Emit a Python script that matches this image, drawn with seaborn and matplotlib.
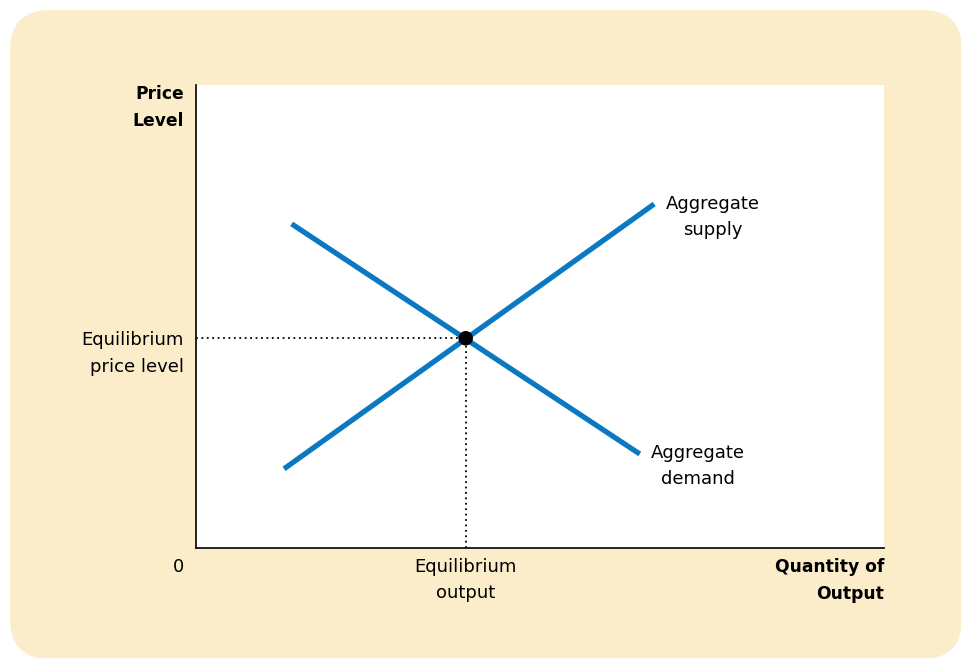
import seaborn as sns
import matplotlib.pyplot as plt
import pandas as pd
from matplotlib.patches import FancyBboxPatch
from matplotlib.transforms import IdentityTransform

# curve end points (arbitrary units, 0-100 on each axis)
supply_q = [12.8, 66.6]
supply_p = [17.1, 74.3]
demand_q = [13.9, 64.5]
demand_p = [70.0, 20.3]
eq_q = 39.2
eq_p = 45.3

blue = '#0A79C2'
bg = '#FBEDC9'

sns.set_style('white')
plt.rcParams['font.family'] = ['DejaVu Sans']
plt.rcParams['text.color'] = 'black'

fig = plt.figure(figsize=(9.61, 6.58), dpi=100)
fig.patch.set_facecolor('white')
box = FancyBboxPatch((10, -1), 952, 649, boxstyle='round,pad=0,rounding_size=40',
                     transform=IdentityTransform(), facecolor=bg, edgecolor='none', zorder=-10)
fig.patches.append(box)

ax = fig.add_axes([196/961, 110/658, 688/961, 463/658])
ax.set_facecolor('white')

df = pd.DataFrame({
    'q': supply_q + demand_q,
    'p': supply_p + demand_p,
    'curve': ['supply'] * 2 + ['demand'] * 2,
})
sns.lineplot(data=df, x='q', y='p', units='curve', estimator=None, sort=False,
             color=blue, lw=3.8, ax=ax, solid_capstyle='butt')

# dotted guides
ax.plot([0, eq_q], [eq_p, eq_p], ls=(0, (1, 2)), color='black', lw=1.3)
ax.plot([eq_q, eq_q], [0, eq_p], ls=(0, (1, 2)), color='black', lw=1.3)
sns.scatterplot(x=[eq_q], y=[eq_p], s=110, color='black', ax=ax, zorder=5, edgecolor='none')

ax.set_xlim(0, 100)
ax.set_ylim(0, 100)
ax.set_xticks([])
ax.set_yticks([])
ax.set_xlabel('')
ax.set_ylabel('')
for s in ['top', 'right']:
    ax.spines[s].set_visible(False)
for s in ['left', 'bottom']:
    ax.spines[s].set_color('black')
    ax.spines[s].set_linewidth(1.2)

fs = 13
fsb = 12.3
ls = 1.6
op = 'offset pixels'
# axis titles
ax.annotate('Price\nLevel', xy=(0, 100), xycoords='data', xytext=(-12, 0), textcoords=op,
            ha='right', va='top', fontsize=fsb, fontweight='bold', linespacing=1.62)
ax.annotate('Quantity of\nOutput', xy=(100, 0), xytext=(0, -10), textcoords=op,
            ha='right', va='top', fontsize=fsb, fontweight='bold', linespacing=1.62)
ax.annotate('0', xy=(0, 0), xytext=(-18, -10), textcoords=op,
            ha='center', va='top', fontsize=fs)
# equilibrium labels
ax.annotate('Equilibrium\nprice level', xy=(0, eq_p), xytext=(-12, 7), textcoords=op,
            ha='right', va='top', fontsize=fs, linespacing=ls)
ax.annotate('Equilibrium\noutput', xy=(eq_q, 0), xytext=(0, -10), textcoords=op,
            ha='center', va='top', fontsize=fs, linespacing=ls, multialignment='center')
# curve labels
ax.annotate('Aggregate\nsupply', xy=(supply_q[1], supply_p[1]), xytext=(59, 9), textcoords=op,
            ha='center', va='top', fontsize=fs, linespacing=ls, multialignment='center')
ax.annotate('Aggregate\ndemand', xy=(demand_q[1], demand_p[1]), xytext=(58, 10), textcoords=op,
            ha='center', va='top', fontsize=fs, linespacing=ls, multialignment='center')

fig.savefig('out.png', dpi=100, facecolor=fig.get_facecolor())
